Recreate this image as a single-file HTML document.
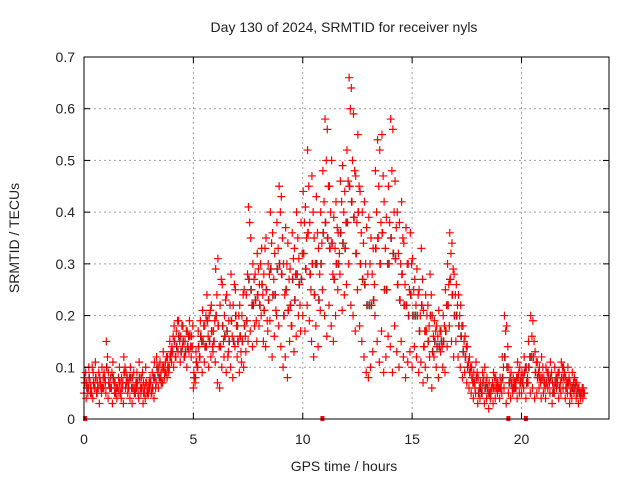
<!DOCTYPE html>
<html><head><meta charset="utf-8"><style>
body{margin:0;background:#fff}
svg text{font-family:"Liberation Sans",sans-serif;font-size:14px;fill:#222}
</style></head><body>
<svg id="chart" width="640" height="480">
<text x="344" y="32" text-anchor="middle">Day 130 of 2024, SRMTID for receiver nyls</text>
<text transform="translate(19,238) rotate(-90)" text-anchor="middle">SRMTID / TECUs</text>
<text x="344" y="471" text-anchor="middle">GPS time / hours</text>
<g id="grid"></g><g id="marks"></g><g id="axes"></g>
</svg>
<script>
const xTicks=[0,5,10,15,20];
const yTicks=[0,0.1,0.2,0.3,0.4,0.5,0.6,0.7];
const yTickLabels=["0","0.1","0.2","0.3","0.4","0.5","0.6","0.7"];
const step=0.1;
const seriesA=[.08,.07,.10,.06,.09,.11,.07,.08,.10,.09,
.15,.09,.08,.11,.07,.06,.10,.08,.12,.09,
.07,.10,.08,.06,.09,.11,.08,.07,.10,.06,
.08,.09,.11,.12,.10,.09,.13,.11,.12,.15,
.14,.18,.17,.19,.16,.18,.15,.17,.19,.16,
.09,.13,.17,.19,.21,.18,.24,.20,.22,.17,
.29,.31,.22,.26,.20,.24,.19,.28,.22,.25,
.18,.22,.20,.25,.24,.41,.35,.30,.28,.32,
.26,.33,.28,.35,.30,.40,.36,.32,.38,.45,
.43,.30,.37,.34,.29,.36,.33,.40,.31,.38,
.44,.41,.52,.38,.47,.35,.43,.33,.40,.48,
.58,.56,.45,.50,.39,.42,.36,.46,.49,.44,
.52,.66,.64,.59,.47,.55,.44,.40,.42,.37,
.39,.35,.33,.48,.54,.52,.55,.42,.39,.45,
.58,.56,.46,.40,.38,.42,.34,.37,.30,.36,
.31,.27,.29,.25,.33,.21,.24,.22,.28,.20,
.19,.18,.21,.17,.20,.25,.30,.36,.34,.28,
.26,.24,.22,.18,.16,.14,.12,.10,.09,.11,
.08,.07,.09,.10,.08,.07,.06,.09,.08,.07,
.08,.12,.20,.18,.10,.09,.08,.07,.11,.10,
.09,.12,.10,.15,.20,.19,.13,.11,.10,.12,
.08,.10,.09,.11,.07,.10,.08,.09,.11,.10,
.08,.10,.07,.09,.08,.07,.06,.05,.06];
const seriesB=[.05,.04,.06,.05,.04,.06,.05,.03,.05,.06,
.05,.04,.06,.03,.05,.04,.05,.04,.03,.06,
.05,.04,.03,.05,.06,.04,.05,.03,.04,.05,
.06,.05,.04,.07,.06,.08,.07,.09,.08,.10,
.11,.10,.12,.13,.11,.14,.12,.10,.13,.12,
.06,.08,.10,.12,.09,.11,.14,.10,.12,.13,
.11,.07,.06,.10,.12,.09,.13,.10,.08,.14,
.12,.09,.11,.10,.13,.15,.17,.14,.18,.15,
.18,.20,.15,.14,.17,.19,.12,.16,.20,.18,
.14,.10,.12,.08,.15,.18,.13,.16,.20,.17,
.20,.17,.22,.19,.15,.12,.18,.14,.21,.25,
.20,.16,.22,.18,.15,.20,.25,.28,.21,.24,
.26,.30,.22,.20,.17,.25,.18,.15,.12,.09,
.08,.10,.13,.20,.15,.11,.17,.09,.12,.16,
.14,.09,.18,.13,.10,.15,.12,.08,.11,.13,
.10,.14,.12,.09,.11,.07,.10,.08,.12,.06,
.12,.10,.08,.13,.10,.09,.14,.18,.15,.12,
.15,.12,.10,.08,.09,.07,.06,.05,.04,.05,
.03,.04,.05,.03,.04,.02,.05,.03,.04,.05,
.04,.05,.06,.03,.05,.04,.05,.06,.04,.05,
.05,.06,.04,.07,.05,.06,.04,.05,.06,.04,
.05,.04,.06,.05,.03,.05,.06,.04,.05,.06,
.04,.05,.03,.04,.05,.04,.03,.04,.04];
const seriesC=[.07,.06,.08,.05,.07,.08,.06,.07,.06,.08,
.10,.07,.06,.08,.05,.06,.07,.06,.09,.07,
.06,.08,.06,.05,.07,.08,.06,.05,.07,.05,
.07,.06,.08,.10,.08,.07,.10,.09,.10,.12,
.13,.15,.14,.16,.13,.15,.13,.14,.16,.14,
.08,.11,.14,.16,.15,.14,.19,.15,.17,.15,
.20,.18,.14,.18,.16,.17,.15,.19,.15,.20,
.15,.16,.15,.18,.19,.27,.25,.22,.23,.24,
.22,.26,.21,.25,.23,.29,.24,.24,.29,.30,
.28,.20,.25,.21,.22,.27,.23,.28,.26,.27,
.32,.29,.36,.28,.30,.24,.30,.23,.30,.36,
.38,.35,.33,.34,.27,.30,.30,.36,.34,.33,
.38,.45,.42,.39,.32,.40,.30,.27,.26,.22,
.22,.22,.23,.33,.35,.30,.36,.25,.25,.30,
.35,.32,.31,.26,.23,.28,.22,.22,.20,.24,
.20,.20,.20,.17,.22,.14,.17,.15,.20,.13,
.15,.14,.14,.15,.15,.17,.22,.27,.24,.20,
.20,.18,.16,.13,.12,.10,.09,.08,.07,.08,
.05,.06,.07,.06,.06,.05,.06,.06,.06,.06,
.06,.08,.12,.10,.07,.07,.06,.06,.08,.07,
.07,.09,.07,.10,.12,.12,.09,.08,.08,.08,
.07,.07,.08,.08,.05,.07,.07,.06,.08,.08,
.06,.07,.05,.06,.06,.05,.05,.05,.05];
const seriesD=[.09,.05,.07,.10,.06,.05,.09,.06,.08,.07,
.12,.06,.09,.07,.06,.08,.05,.07,.10,.08,
.08,.06,.09,.07,.05,.06,.09,.06,.05,.07,
.05,.08,.06,.09,.11,.10,.08,.12,.09,.13,
.16,.12,.19,.15,.18,.12,.17,.16,.14,.18,
.07,.10,.12,.15,.18,.20,.16,.21,.14,.19,
.24,.14,.27,.15,.23,.12,.22,.16,.26,.18,
.20,.13,.24,.16,.28,.38,.22,.27,.19,.29,
.30,.24,.33,.19,.28,.34,.27,.21,.33,.40,
.35,.24,.30,.27,.18,.31,.28,.35,.22,.32,
.38,.35,.45,.25,.40,.30,.36,.28,.34,.42,
.50,.45,.40,.28,.33,.37,.32,.42,.40,.38,
.46,.60,.50,.48,.38,.45,.36,.34,.30,.28,
.30,.28,.26,.40,.45,.38,.47,.33,.30,.38,
.48,.40,.37,.32,.30,.35,.26,.30,.25,.30,
.25,.22,.24,.20,.27,.17,.20,.18,.24,.16,
.17,.16,.17,.14,.18,.22,.26,.32,.29,.24,
.22,.20,.18,.15,.14,.11,.10,.07,.06,.09,
.06,.05,.08,.07,.05,.04,.07,.08,.07,.06,
.07,.10,.17,.14,.08,.06,.07,.08,.09,.08,
.08,.10,.08,.12,.16,.15,.11,.09,.07,.10,
.06,.09,.07,.09,.06,.08,.09,.07,.10,.09,
.07,.08,.06,.07,.07,.06,.05,.06,.05];
const gapTimes=[0.05,10.9,19.4,20.2];

const X0=84,X1=609,Y0=419,Y1=57,XMAX=24,YMAX=0.7;
const xs=t=>X0+(X1-X0)*t/XMAX;
const ys=v=>Y0-(Y0-Y1)*v/YMAX;
const NS='http://www.w3.org/2000/svg';
function mk(tag,attrs,parent){const e=document.createElementNS(NS,tag);for(const k in attrs)e.setAttribute(k,attrs[k]);parent.appendChild(e);return e;}
const grid=document.getElementById('grid'),marks=document.getElementById('marks'),axes=document.getElementById('axes');
yTicks.forEach((v,i)=>{
  if(i>0&&i<yTicks.length-1){const g=mk('line',{x1:X0,x2:X1,y1:ys(v),y2:ys(v),stroke:'#a0a0a0','stroke-dasharray':'2,3'},grid);
  
  }
  const t=mk('text',{x:X0-9,y:ys(v)+5,'text-anchor':'end'},axes);t.textContent=yTickLabels[i];
  
  
  mk('line',{x1:X0,x2:X0+6,y1:ys(v),y2:ys(v),stroke:'#000'},axes);
  mk('line',{x1:X1,x2:X1-6,y1:ys(v),y2:ys(v),stroke:'#000'},axes);
});
xTicks.forEach(v=>{
  if(v>0){const g=mk('line',{x1:xs(v),x2:xs(v),y1:Y0,y2:Y1,stroke:'#a0a0a0','stroke-dasharray':'2,3'},grid);
  
  }
  const t=mk('text',{x:xs(v),y:Y0+25,'text-anchor':'middle'},axes);t.textContent=String(v);
  
  
  mk('line',{x1:xs(v),x2:xs(v),y1:Y0,y2:Y0-6,stroke:'#000'},axes);
  mk('line',{x1:xs(v),x2:xs(v),y1:Y1,y2:Y1+6,stroke:'#000'},axes);
});
const box=mk('rect',{x:X0,y:Y1,width:X1-X0,height:Y0-Y1,fill:'none',stroke:'#000'},axes);


function plus(series,offset,color,name){
  let d='';
  series.forEach((v,i)=>{const x=xs(i*step+offset),y=ys(v);d+=`M${x-4},${y}h8M${x},${y-4}v8`;});
  const p=mk('path',{d:d,stroke:color,'stroke-width':1.2,fill:'none'},marks);
  
  
}
plus(seriesC,0.03,'#333','srmtid-points-gray');
plus(seriesB,0,'#f00','srmtid-points-low');
plus(seriesC,0.05,'#f00','srmtid-points-mid');
plus(seriesD,0.075,'#f00','srmtid-points-midhigh');
plus(seriesA,0.02,'#f00','srmtid-points-high');
gapTimes.forEach(t=>{
  const r=mk('rect',{x:xs(t)-2,y:Y0-3,width:4,height:5,fill:'#f00'},marks);
  
  
});
</script>
</body></html>
